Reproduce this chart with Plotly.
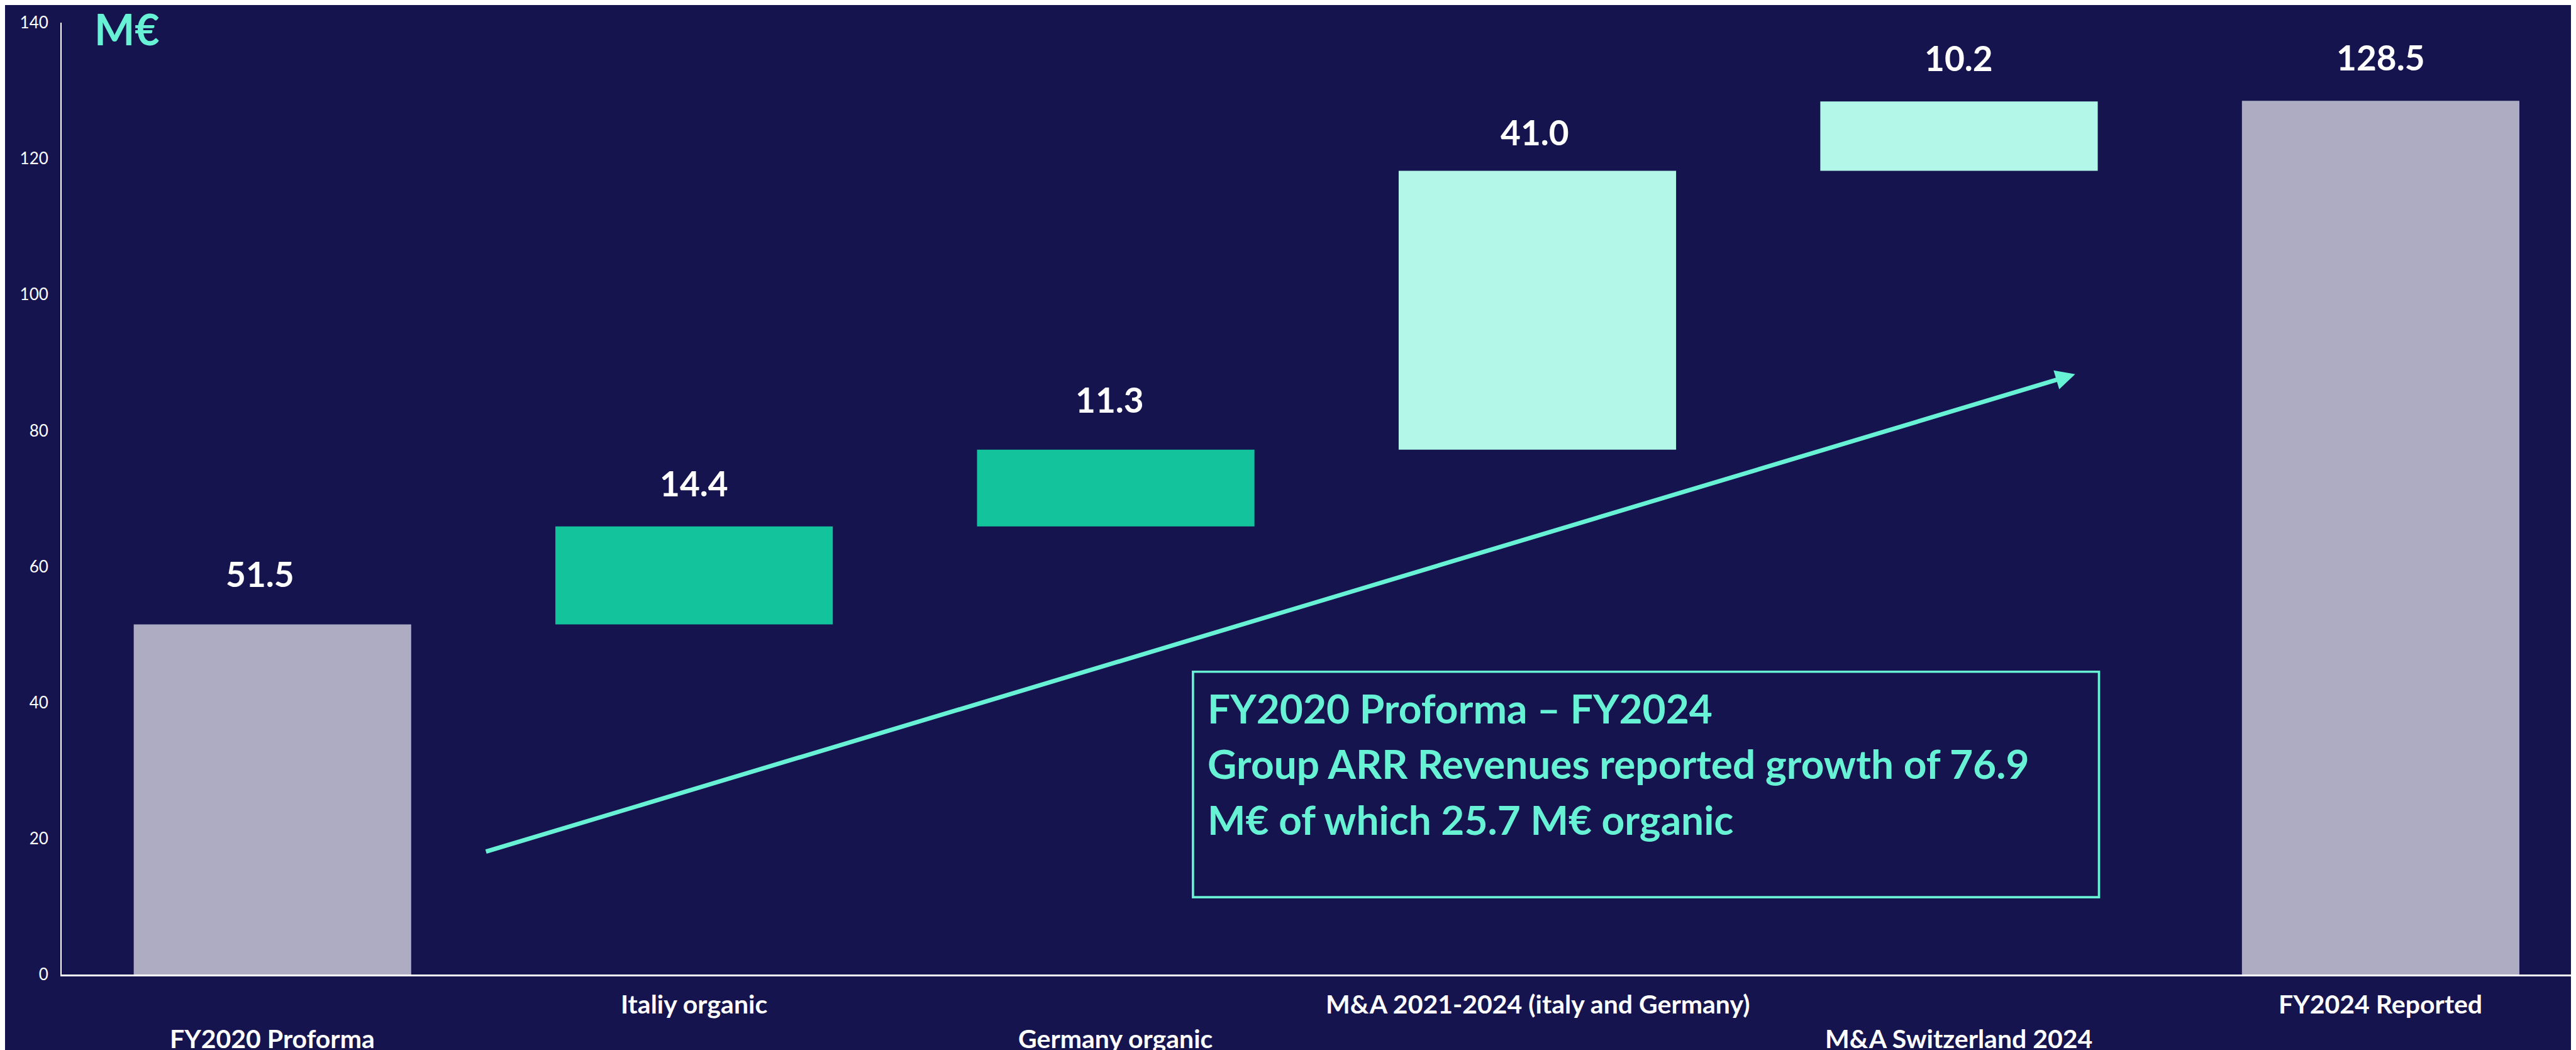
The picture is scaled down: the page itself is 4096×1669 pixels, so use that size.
import plotly.graph_objects as go

# ---------------- data ----------------
categories = ["FY2020 Proforma", "Italiy organic", "Germany organic",
              "M&A 2021-2024 (italy and Germany)", "M&A Switzerland 2024",
              "FY2024 Reported"]
start_value = 51.5
increments = [14.4, 11.3, 41.0, 10.2]
end_value = 128.5
value_labels = ["51.5", "14.4", "11.3", "41.0", "10.2", "128.5"]
y_ticks = [0, 20, 40, 60, 80, 100, 120, 140]
unit_label = "M€"
box_lines = ["FY2020 Proforma – FY2024",
             "Group ARR Revenues reported growth of 76.9",
             "M€ of which 25.7 M€ organic"]

# ---------------- styles ----------------
BG = "#15144F"
GREY = "#ADACC2"
GREEN = "#13C39B"
MINT = "#B3F7E8"
AQUA = "#68F2D5"
WHITE = "#FFFFFF"
FONT = "Lato"

W, H = 4096, 1669
S = W / 4435.0  # scale from reference pixels

bar_colors = [GREY, GREEN, GREEN, MINT, MINT, GREY]

# waterfall geometry from the data
heights = [start_value] + increments + [end_value]
bases = [0.0]
running = start_value
for inc in increments:
    bases.append(running)
    running += inc
bases.append(0.0)
tops = [b + h for b, h in zip(bases, heights)]
idx = list(range(len(categories)))

# layout helpers (reference pixel -> axis units) for decorations
def rx(px):
    return -0.5 + (px - 97) / 726.0

def ry(py):
    return (1668 - py) / 11.7

fig = go.Figure()
fig.add_trace(go.Bar(
    x=idx, y=heights, base=bases,
    marker=dict(color=bar_colors, line=dict(width=0)),
    width=0.658, hoverinfo="skip", showlegend=False,
))

annotations = []

# value labels above bars
label_yshift = [87, 74, 86, 67, 75, 75]
label_xshift = [-21, 0, -10, -4, 0, 0]
for i, t in enumerate(tops):
    annotations.append(dict(
        x=i, y=t, xref="x", yref="y", text=value_labels[i], showarrow=False,
        xanchor="center", yanchor="middle",
        yshift=label_yshift[i] * S, xshift=label_xshift[i] * S,
        font=dict(family=FONT, size=55, color=WHITE, weight="bold"),
    ))

# staggered category labels
for i, c in enumerate(categories):
    dy = 1718 if i % 2 == 1 else 1778
    annotations.append(dict(
        x=i, y=0, xref="x", yref="y", text=c, showarrow=False,
        xanchor="center", yanchor="middle", yshift=-(dy - 1668) * S,
        font=dict(family=FONT, size=41, color=WHITE, weight="bold"),
    ))

# unit label
annotations.append(dict(
    x=rx(210), y=ry(40), xref="x", yref="y", text=unit_label, showarrow=False,
    xanchor="center", yanchor="middle",
    font=dict(family=FONT, size=68, color=AQUA, weight="bold"),
))

# text box lines
for line, cy in zip(box_lines, [1209, 1305, 1401]):
    annotations.append(dict(
        x=rx(2068), y=ry(cy), xref="x", yref="y", text=line, showarrow=False,
        xanchor="left", yanchor="middle",
        font=dict(family=FONT, size=64, color=AQUA, weight="bold"),
    ))

# growth arrow
annotations.append(dict(
    x=rx(3564), y=ry(635), ax=rx(826), ay=ry(1457),
    xref="x", yref="y", axref="x", ayref="y",
    text="", showarrow=True, arrowhead=2, arrowsize=0.9,
    arrowwidth=7.5 * S, arrowcolor=AQUA, standoff=0, startstandoff=0,
))

fig.add_shape(
    type="rect", xref="x", yref="y",
    x0=rx(2045), x1=rx(3605), y0=ry(1535), y1=ry(1147),
    line=dict(color=AQUA, width=4 * S), fillcolor="rgba(0,0,0,0)",
)

fig.update_layout(
    width=W, height=H,
    paper_bgcolor=BG, plot_bgcolor=BG,
    margin=dict(l=97 * S, r=0, t=30 * S, b=H - 1668 * S, pad=0),
    annotations=annotations,
    showlegend=False,
    xaxis=dict(
        type="linear", range=[-0.5, rx(4435)], showticklabels=False,
        showgrid=False, zeroline=False, ticks="",
        showline=True, linecolor=WHITE, linewidth=3,
        fixedrange=True,
    ),
    yaxis=dict(
        range=[0, 140], tickvals=y_ticks, ticktext=[str(v) for v in y_ticks],
        showgrid=False, zeroline=False, ticks="",
        showline=True, linecolor=WHITE, linewidth=2,
        tickfont=dict(family=FONT, size=26, color=WHITE),
        ticklabelstandoff=14, fixedrange=True,
    ),
)

fig.write_html("out.html")
